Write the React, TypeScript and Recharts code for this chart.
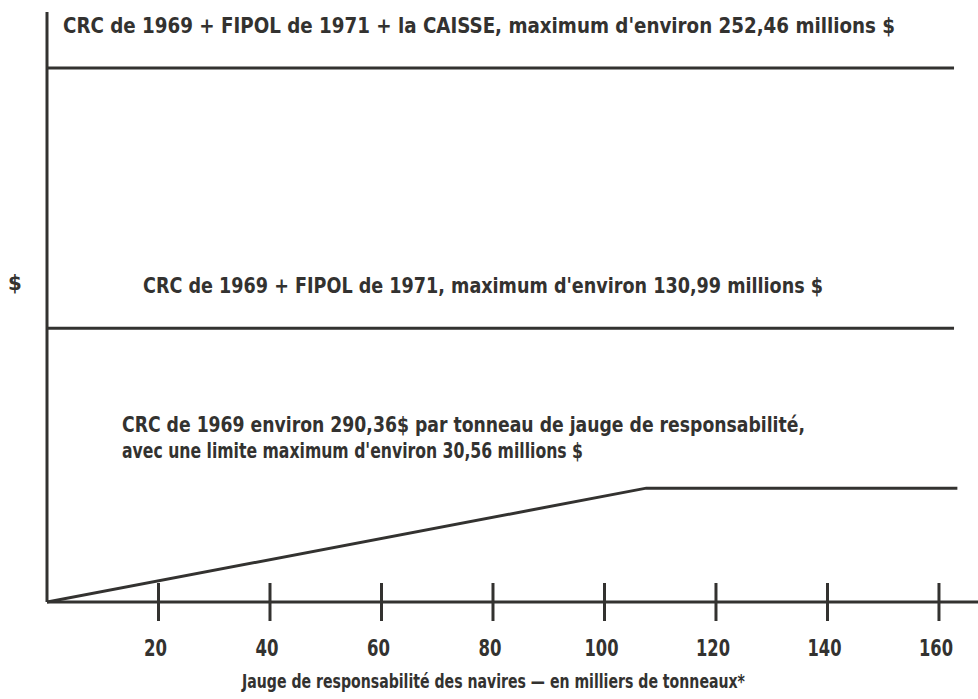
import { LineChart, Line, XAxis, YAxis, Customized } from "recharts";

// x: thousands of tonnes; y: schematic height (chart is not to scale)
const fundTotal = [
  { x: 0, y: 90.5 },
  { x: 162.7, y: 90.5 },
];
const fundPlusCrc = [
  { x: 0, y: 46.4 },
  { x: 162.7, y: 46.4 },
];
const crcOnly = [
  { x: 0, y: 0 },
  { x: 107.5, y: 19.3 },
  { x: 163.3, y: 19.3 },
];
const xTicks = [20, 40, 60, 80, 100, 120, 140, 160];

const labelTop = "CRC de 1969 + FIPOL de 1971 + la CAISSE, maximum d'environ 252,46 millions $";
const labelMid = "CRC de 1969 + FIPOL de 1971, maximum d'environ 130,99 millions $";
const labelLow1 = "CRC de 1969 environ 290,36$ par tonneau de jauge de responsabilité,";
const labelLow2 = "avec une limite maximum d'environ 30,56 millions $";
const xTitle = "Jauge de responsabilité des navires — en milliers de tonneaux*";

const INK = "#333230";
const FONT = "'Liberation Sans Narrow', 'DejaVu Sans Condensed', 'Roboto', sans-serif";

const Tick = ({ x, y, payload }: any) => (
  <g>
    <line x1={x} x2={x} y1={y - 19} y2={y + 19} stroke={INK} strokeWidth={3} />
    <text x={x - 3} y={y + 54} textAnchor="middle" fontSize={23} fontWeight="bold"
      fontFamily={FONT} fill={INK} textLength={payload.value >= 100 ? 34 : 23} lengthAdjust="spacingAndGlyphs">
      {payload.value}
    </text>
  </g>
);

const Texts = () => (
  <g fontFamily={FONT} fill={INK} fontSize={22} fontWeight="bold">
    <text x={63} y={33} textLength={832} lengthAdjust="spacingAndGlyphs">{labelTop}</text>
    <text x={143} y={293} textLength={680} lengthAdjust="spacingAndGlyphs">{labelMid}</text>
    <text x={122} y={432} textLength={683} lengthAdjust="spacingAndGlyphs">{labelLow1}</text>
    <text x={122} y={458} textLength={461} lengthAdjust="spacingAndGlyphs">{labelLow2}</text>
    <text x={15} y={290} textAnchor="middle">$</text>
    <text x={242} y={688} fontSize={20} textLength={503} lengthAdjust="spacingAndGlyphs">
      {xTitle}
    </text>
  </g>
);

export default function App() {
  return (
    <div style={{ position: "absolute", left: 0, top: 0, background: "#fff" }}>
      <LineChart width={978} height={699} margin={{ top: 12, right: 0, left: 0, bottom: 0 }}>
        <XAxis
          type="number"
          dataKey="x"
          domain={[0, 167]}
          ticks={xTicks}
          tick={<Tick />}
          tickLine={false}
          tickSize={0}
          tickMargin={0}
          height={97}
          interval={0}
          allowDataOverflow
          axisLine={{ stroke: INK, strokeWidth: 3 }}
        />
        <YAxis
          type="number"
          dataKey="y"
          domain={[0, 100]}
          width={47}
          tick={false}
          tickLine={false}
          axisLine={{ stroke: INK, strokeWidth: 3 }}
        />
        <Line data={fundTotal} dataKey="y" stroke={INK} strokeWidth={3} dot={false} isAnimationActive={false} />
        <Line data={fundPlusCrc} dataKey="y" stroke={INK} strokeWidth={3} dot={false} isAnimationActive={false} />
        <Line data={crcOnly} dataKey="y" stroke={INK} strokeWidth={3} dot={false} isAnimationActive={false} />
        <Customized component={Texts} />
      </LineChart>
    </div>
  );
}
